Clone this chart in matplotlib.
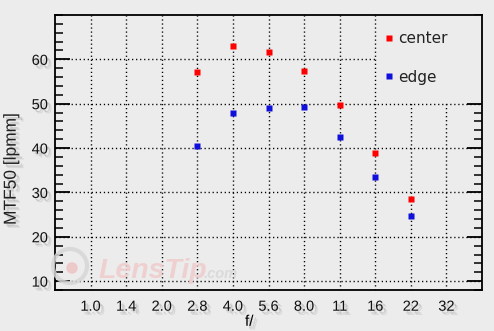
import matplotlib
matplotlib.use('Agg')
import matplotlib.pyplot as plt
import matplotlib.patheffects as pe
from matplotlib.patches import Circle, Rectangle

plt.rcParams['lines.scale_dashes'] = False

# f-number scale and measured MTF50 values
fstops = ['1.0', '1.4', '2.0', '2.8', '4.0', '5.6', '8.0', '11', '16', '22', '32']
measured = ['2.8', '4.0', '5.6', '8.0', '11', '16', '22']
center = [57.1, 62.9, 61.6, 57.3, 49.6, 38.8, 28.6]
edge = [40.4, 48.0, 49.1, 49.3, 42.6, 33.4, 24.7]
yticks = [10, 20, 30, 40, 50, 60]

bg = '#ececec'
shadow = [pe.SimplePatchShadow(offset=(3, -3), shadow_rgbFace='#8a8a8a', alpha=0.2),
          pe.SimplePatchShadow(offset=(2, -2), shadow_rgbFace='#8a8a8a', alpha=0.3),
          pe.Normal()]

fig = plt.figure(figsize=(4.94, 3.31), dpi=100, facecolor=bg)
ax = fig.add_axes([55/494, 1 - 290/331, 427/494, 275/331], facecolor=bg)

xpos = {f: i for i, f in enumerate(fstops)}
xc = [xpos[f] for f in measured]
ax.plot(xc, center, 's', color='#ff0000', ms=3.8, mec='none', label='center', zorder=5)
ax.plot(xc, edge, 's', color='#1010dd', ms=3.8, mec='none', label='edge', zorder=5)

ax.set_xlim(-1, 11)
ax.set_ylim(8, 70)
ax.set_xticks(range(len(fstops)))
ax.set_xticklabels(fstops)
ax.set_yticks(yticks)
ax.set_yticks(range(8, 71, 2), minor=True)

ax.grid(True, which='major', color='black', linewidth=1.0, linestyle=(0, (0.9, 2.0)))
ax.tick_params(axis='x', which='both', length=0, pad=7, labelsize=10.5)
ax.tick_params(axis='y', which='major', direction='in', length=11, width=1.3,
               left=True, right=True, labelsize=10.5, pad=5)
ax.tick_params(axis='y', which='minor', direction='in', length=6, width=1.1,
               left=True, right=True)
for sp in ax.spines.values():
    sp.set_linewidth(1.3)
    sp.set_zorder(6)

for lab in ax.get_xticklabels() + ax.get_yticklabels():
    lab.set_family('Liberation Sans')
    lab.set_color('#111111')
    lab.set_path_effects(shadow)

ax.set_xlabel('f/', family='Liberation Sans', fontsize=11, path_effects=shadow)
ax.xaxis.set_label_coords(0.455, -0.09)
ax.set_ylabel('MTF50 [lpmm]', family='Liberation Sans', fontsize=12.5, color='#222222',
              path_effects=shadow)
ax.yaxis.set_label_coords(-0.085, 0.44)

# plain patch behind the legend that hides the grid there
ax.add_patch(Rectangle((0.753, 0.684), 0.26, 0.32, transform=ax.transAxes,
                       facecolor=bg, edgecolor='none', zorder=3))
leg = ax.legend(loc='upper left', bbox_to_anchor=(0.771, 0.942), frameon=False,
                fontsize=11, handlelength=0.6, handletextpad=0.3, labelspacing=1.55,
                borderpad=0, borderaxespad=0)
leg.set_zorder(4)
for t in leg.get_texts():
    t.set_color('#222222')

# faded watermark
wm = fig.add_axes([0, 0, 1, 1], facecolor='none')
wm.set_xlim(0, 494)
wm.set_ylim(331, 0)
wm.axis('off')
wm.add_patch(Circle((70, 266), 17, fill=False, ec='#d6d6d6', lw=3, alpha=0.85))
wm.add_patch(Circle((72, 268), 5, color='#eec4c4', alpha=0.85))
wm.text(98, 278, 'LensTip', fontsize=20.5, fontweight='bold', style='italic',
        color='#f0cdcd', family='Liberation Sans', alpha=0.9)
wm.text(204, 278, '.com', fontsize=10.5, fontweight='bold', style='italic',
        color='#d8d8d8', family='Liberation Sans', alpha=0.9)

fig.savefig('out.png', dpi=100, facecolor=bg)
